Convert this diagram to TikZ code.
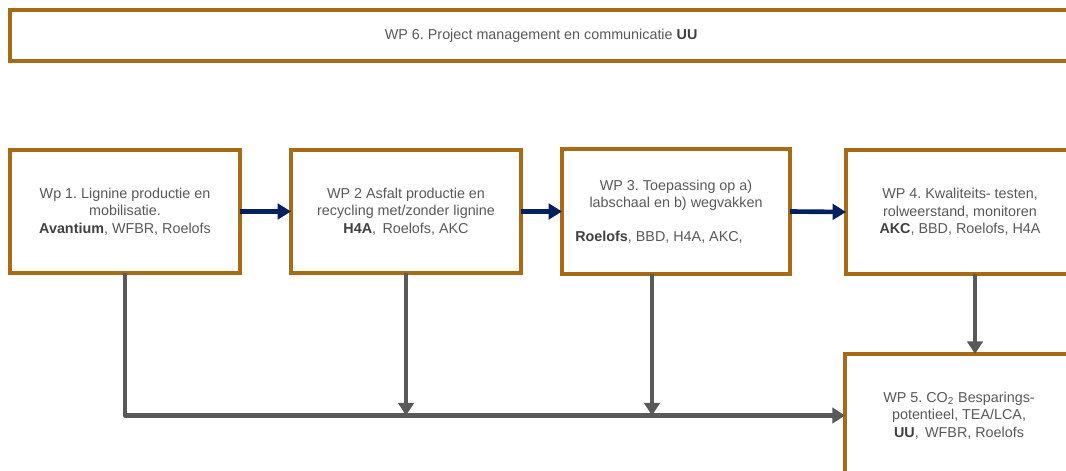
\documentclass[tikz,border=0pt]{standalone}
\usepackage{fontspec}
\setmainfont{Liberation Sans}
\definecolor{wpbrown}{HTML}{A66B14}
\definecolor{wpnavy}{HTML}{002060}
\definecolor{wpgray}{HTML}{595959}
\definecolor{wpbold}{HTML}{404040}
\usetikzlibrary{arrows.meta, calc, positioning}
\newcommand{\lead}[1]{\textbf{\color{wpbold}#1}}

\begin{document}
\frenchspacing
\begin{tikzpicture}[x=0.025cm, y=-0.025cm,
	wpbox/.style={draw=wpbrown, line width=2.4pt, fill=white, align=center, text=wpgray,
		font=\fontsize{10.2}{12.3}\selectfont, minimum width=5.75cm, minimum height=3.075cm,
		inner sep=0pt, outer sep=0pt, anchor=north west},
	flow/.style={draw=wpnavy, line width=3.3pt, -{Triangle[length=9.5pt,width=11pt]}},
	feed/.style={draw=wpgray, line width=3.1pt, line join=round, -{Triangle[length=9pt,width=11pt]}}]
	\useasboundingbox (0,0) rectangle (1066,471);
	\clip (0,0) rectangle (1066,471);
	% WP 6 bar
	\node[wpbox, minimum width=26.55cm, minimum height=1.275cm] (wp6) at (10,10)
		{WP 6. Project management en communicatie \lead{UU}};
	% work packages
	\node[wpbox] (wp1) at (10,150)
		{Wp 1. Lignine productie en\\mobilisatie.\\\lead{Avantium}, WFBR, Roelofs};
	\node[wpbox] (wp2) at (291,150)
		{WP 2 Asfalt productie en\\recycling met/zonder lignine\\\lead{H4A},\, Roelofs, AKC};
	\node[wpbox, minimum width=5.7cm, minimum height=3.125cm] (wp3) at (562,149)
		{WP 3. Toepassing op a)\\labschaal en b) wegvakken\\[12pt]\lead{Roelofs}, BBD, H4A, AKC,\hspace*{0.85cm}};
	\node[wpbox, minimum width=5.7cm, minimum height=3.1cm] (wp4) at (846,150)
		{WP 4. Kwaliteits- testen,\\rolweerstand, monitoren\\\lead{AKC}, BBD, Roelofs, H4A};
	\node[wpbox, minimum width=5.7cm] (wp5) at (845,354)
		{WP 5. CO\textsubscript{2} Besparings-\\potentieel, TEA/LCA,\\\lead{UU},\, WFBR, Roelofs};
	% flow between packages
	\draw[flow] (wp1.east) -- (wp2.west);
	\draw[flow] (wp2.east) -- (wp3.west);
	\draw[flow] (wp3.east) -- (wp4.west);
	% results to WP 5
	\coordinate (drop3) at (652,274);
	\coordinate (drop4) at (975,274);
	\draw[feed] (wp1.south) |- (wp5.west);
	\draw[feed] (wp2.south) -- (wp2.south |- wp5.west);
	\draw[feed] (drop3) -- (drop3 |- wp5.west);
	\draw[feed] (drop4) -- (drop4 |- wp5.north);
\end{tikzpicture}
\end{document}
